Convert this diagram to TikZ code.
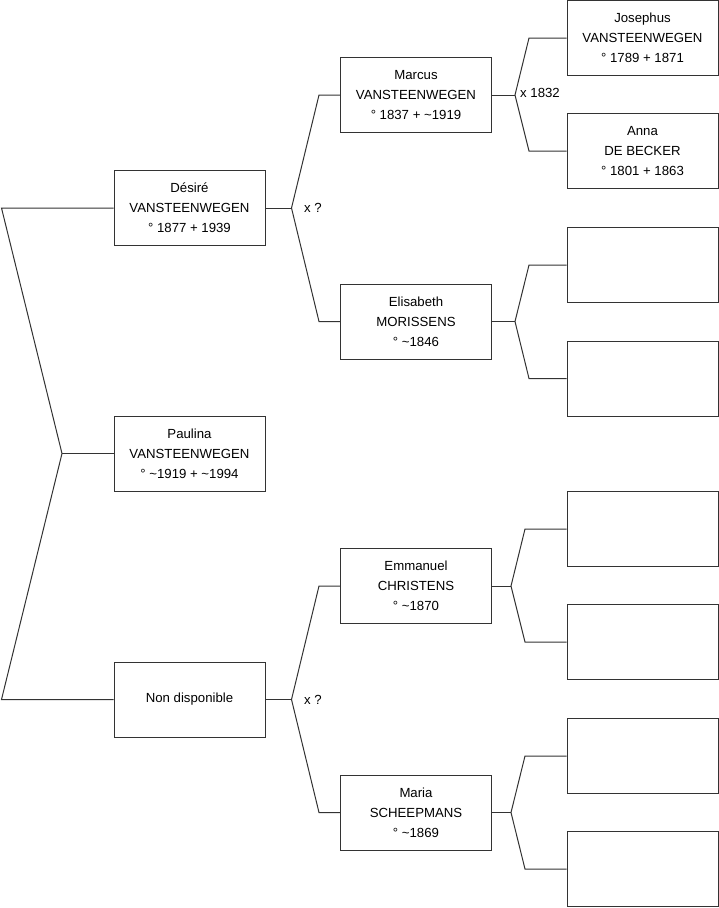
\documentclass[tikz,border=0pt]{standalone}
\usepackage{fontspec}
\setmainfont{Liberation Sans}
\begin{document}
\begin{tikzpicture}[x=1pt,y=-1pt,
  person/.style={draw=black!80,line width=1pt,fill=white,minimum width=151pt,minimum height=75pt,inner sep=0pt,align=center,font=\fontsize{13.2}{20}\selectfont},
  link/.style={draw=black!80,line width=1pt},
  mariage/.style={anchor=west,inner sep=0pt,font=\fontsize{13.2}{20}\selectfont}]
\useasboundingbox (0,0) rectangle (719,908);
% generation 1
\node[person] (P) at (189.5,453.5) {Paulina\\VANSTEENWEGEN\\° \textasciitilde1919 + \textasciitilde1994};
% generation 2
\node[person] (D) at (189.5,208) {Désiré\\VANSTEENWEGEN\\° 1877 + 1939};
\node[person] (N) at (189.5,699.5) {Non disponible};
% generation 3
\node[person] (M) at (416,95) {Marcus\\VANSTEENWEGEN\\° 1837 + \textasciitilde1919};
\node[person] (E) at (416,321.5) {Elisabeth\\MORISSENS\\° \textasciitilde1846};
\node[person] (Em) at (416,586) {Emmanuel\\CHRISTENS\\° \textasciitilde1870};
\node[person] (Ma) at (416,812.5) {Maria\\SCHEEPMANS\\° \textasciitilde1869};
% generation 4
\node[person] (J) at (642.5,38) {Josephus\\VANSTEENWEGEN\\° 1789 + 1871};
\node[person] (A) at (642.5,151) {Anna\\DE BECKER\\° 1801 + 1863};
\node[person] (e1) at (642.5,265) {};
\node[person] (e2) at (642.5,378.5) {};
\node[person] (e3) at (642.5,529) {};
\node[person] (e4) at (642.5,642) {};
\node[person] (e5) at (642.5,756) {};
\node[person] (e6) at (642.5,869) {};
% root fork
\coordinate (r0) at (62,453.5);
\coordinate (r1) at (1.5,208);
\coordinate (r2) at (1.5,699.5);
\draw[link] (P.west) -- (r0);
\draw[link] (D.west) -- (r1) -- (r0) -- (r2) -- (N.west);
% D fork
\coordinate (d0) at (291.5,208);
\coordinate (d1) at (319,95);
\coordinate (d2) at (319,321.5);
\draw[link] (D.east) -- (d0);
\draw[link] (M.west) -- (d1) -- (d0) -- (d2) -- (E.west);
\node[mariage] (xd) at (304,208) {x ?};
% N fork
\coordinate (n0) at (291.5,699.5);
\coordinate (n1) at (319,586);
\coordinate (n2) at (319,812.5);
\draw[link] (N.east) -- (n0);
\draw[link] (Em.west) -- (n1) -- (n0) -- (n2) -- (Ma.west);
\node[mariage] (xn) at (304,699.5) {x ?};
% M fork
\coordinate (m0) at (515,95);
\coordinate (m1) at (529,38);
\coordinate (m2) at (529,151);
\draw[link] (M.east) -- (m0);
\draw[link] (J.west) -- (m1) -- (m0) -- (m2) -- (A.west);
\node[mariage] (xm) at (520,93) {x 1832};
% E fork
\coordinate (f0) at (515,321.5);
\coordinate (f1) at (529,265);
\coordinate (f2) at (529,378.5);
\draw[link] (E.east) -- (f0);
\draw[link] (e1.west) -- (f1) -- (f0) -- (f2) -- (e2.west);
% Em fork
\coordinate (g0) at (511,586);
\coordinate (g1) at (525,529);
\coordinate (g2) at (525,642);
\draw[link] (Em.east) -- (g0);
\draw[link] (e3.west) -- (g1) -- (g0) -- (g2) -- (e4.west);
% Ma fork
\coordinate (h0) at (511,812.5);
\coordinate (h1) at (525,756);
\coordinate (h2) at (525,869);
\draw[link] (Ma.east) -- (h0);
\draw[link] (e5.west) -- (h1) -- (h0) -- (h2) -- (e6.west);
\end{tikzpicture}
\end{document}
